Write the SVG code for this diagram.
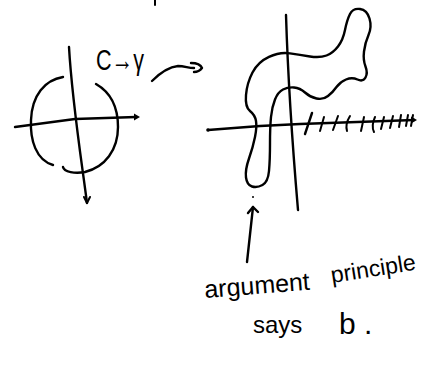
<svg xmlns="http://www.w3.org/2000/svg" width="427" height="370" viewBox="0 0 427 370">
<style>
.ink{fill:none;stroke:#000;stroke-width:2.4;stroke-linecap:round;stroke-linejoin:round}
.thin{fill:none;stroke:#000;stroke-width:2;stroke-linecap:round;stroke-linejoin:round}
.dot{fill:#000}
.hand{font-family:"Liberation Sans","DejaVu Sans",sans-serif;fill:#000}
</style>
<rect width="427" height="370" fill="#fff"/>
<g id="top-mark"><path class="thin" d="M155,0 L155,5"/></g>
<g id="left-plane">
  <path class="ink" d="M69,47 C72,100 80,150 87,203"/>
  <path class="thin" d="M84,197 L87,203 L90,197"/>
  <path class="ink" d="M15,127 L75,119 L136,117"/>
  <path class="dot" d="M134,113.5 L140,117 L134,120.5 Z"/>
  <path class="ink" d="M63,77 C45,80 32,95 31,120 C30,140 36,160 53,165"/>
  <path class="ink" d="M63,167 C64,172 75,174 85,172 C105,167 118,150 118,127 C118,105 110,92 96,84"/>
</g>
<g id="label-c-gamma"><text class="hand" x="96" y="70" font-size="30" textLength="48" lengthAdjust="spacingAndGlyphs">C→γ</text></g>
<g id="connectors">
  <path class="ink" d="M152,81 C160,73 168,67 178,66 C185,66 188,68 194,68"/>
  <path class="ink" d="M191,63 Q200,63 202,68 Q199,72 194,72"/>
  <path class="ink" d="M247,262 L253,207"/>
  <path class="ink" d="M248,213 L253,207 L258,212"/>
</g>
<g id="right-plane">
  <path class="ink" d="M286,15 C288,80 292,140 298,210"/>
  <path class="ink" d="M208,130 L260,126 L300,124 L414,120"/>
  <circle class="dot" cx="208" cy="130" r="1.8"/>
  <path class="dot" d="M411,116.5 L417,120 L411,123.5 Z"/>
  <circle class="dot" cx="253" cy="197" r="1"/>
  <path class="ink" d="M290,53.4 Q280,51.7 269,56.9 Q258,62 252.5,72.5 Q247,83 246,95 Q245,107 250,111 Q255,115 256,121 Q257,127 255,137 Q253,147 249,158.5 Q245,170 246,177.5 Q247,185 252,186.5 Q257,188 262.5,185 Q268,182 269,171 Q270,160 270,143.5 Q270,127 271,117 Q272,107 275,99.5 Q278,92 283,89.5 Q288,87 294,87.5 Q300,88 305,92.5 Q310,97 316.5,98.5 Q323,100 328,96 Q333,92 336.5,87 Q340,82 346,79.5 Q352,77 357.5,79.5 Q363,82 365.5,77.5 Q368,73 365.5,66.5 Q363,60 364,51.5 Q365,43 368.5,35 Q372,27 369.5,18.5 Q367,10 360,9 Q353,8 350,14 Q347,20 345,30 Q343,40 338,46.5 Q333,53 326.5,55.5 Q320,58 310,56.5 Q300,55 290,53.4 Z"/>
  <g id="hatching">
    <path class="ink" d="M312,113 L305,134"/>
    <path class="thin" d="M324,117 L320,131"/>
    <path class="thin" d="M338,116 L333,130"/>
    <path class="thin" d="M350,116 Q345,124 347,131"/>
    <path class="thin" d="M364,117 L361,131"/>
    <path class="thin" d="M375,117 Q371,126 374,132"/>
    <path class="thin" d="M384,117 L381,129"/>
    <path class="thin" d="M393,116 L390,128"/>
    <path class="thin" d="M401,115 L399,127"/>
    <path class="thin" d="M408,115 L406,126"/>
    <path class="thin" d="M413,115 L411,126"/>
  </g>
</g>
<g id="caption">
  <text class="hand" x="205" y="298" font-size="25" transform="rotate(-4.5 205 298)">argument</text>
  <text class="hand" x="332" y="283" font-size="23" transform="rotate(-9 332 283)">principle</text>
  <text class="hand" x="253" y="333" font-size="24">says</text>
  <text class="hand" x="339" y="334" font-size="30">b .</text>
</g>
</svg>
